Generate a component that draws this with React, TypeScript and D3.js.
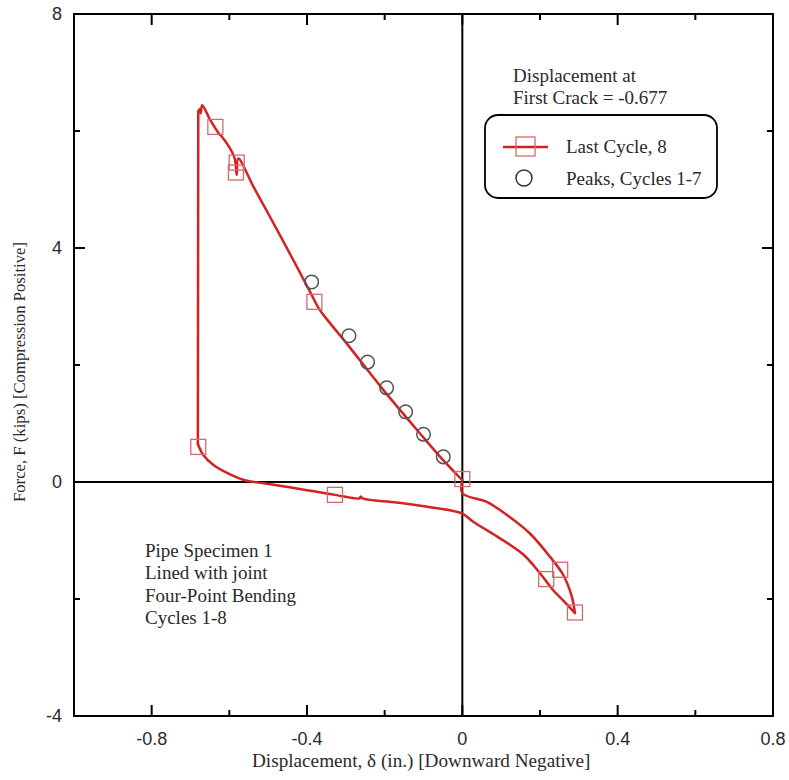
import React from "react";
import * as d3 from "d3";

type P = [number, number];

// Last cycle (cycle 8) force-displacement path
const loadBranch: P[] = [
  [0, 0.03], [-0.057, 0.43], [-0.109, 0.83], [-0.203, 1.57], [-0.298, 2.37],
  [-0.345, 2.75], [-0.368, 2.95], [-0.392, 3.25], [-0.435, 3.79], [-0.495, 4.53], [-0.538, 5.05],
  [-0.577, 5.53], [-0.581, 5.25], [-0.587, 5.55], [-0.620, 5.91], [-0.626, 5.95],
  [-0.650, 6.20], [-0.670, 6.44], [-0.674, 6.30], [-0.677, 6.37], [-0.680, 6.33],
];
const dropBranch: P[] = [
  [-0.680, 6.33], [-0.681, 0.65],
];
const unloadBranch: P[] = [
  [-0.681, 0.65], [-0.667, 0.46], [-0.641, 0.29], [-0.598, 0.13], [-0.555, 0.02],
  [-0.512, -0.02], [-0.426, -0.11], [-0.328, -0.22], [-0.265, -0.28], [-0.262, -0.25],
  [-0.255, -0.285], [-0.169, -0.35], [-0.083, -0.43], [0, -0.54], [0.028, -0.68],
  [0.089, -0.93], [0.157, -1.24], [0.200, -1.56], [0.234, -1.85], [0.262, -2.04],
  [0.290, -2.24],
];
const returnBranch: P[] = [
  [0.290, -2.24], [0.282, -1.96], [0.260, -1.59], [0.226, -1.28], [0.174, -0.88], [0.114, -0.56],
  [0.063, -0.34], [0, -0.19], [0, 0.03],
];

// Square markers on the last cycle
const lastCycleMarkers: P[] = [
  [-0.636, 6.07], [-0.581, 5.46], [-0.583, 5.29], [-0.381, 3.08], [-0.680, 0.60],
  [-0.328, -0.22], [0, 0.05], [0.216, -1.66], [0.252, -1.50], [0.290, -2.23],
];

// Peaks, cycles 1-7
const peaks: P[] = [
  [-0.388, 3.42], [-0.292, 2.50], [-0.244, 2.05], [-0.195, 1.61],
  [-0.146, 1.20], [-0.100, 0.815], [-0.049, 0.43],
];

const xMajorTicks = [-0.8, -0.4, 0, 0.4, 0.8];
const xMinorTicks = [-0.6, -0.2, 0.2, 0.6];
const xTickLabels = ["-0.8", "-0.4", "0", "0.4", "0.8"];
const yMajorTicks = [-4, 0, 4, 8];
const yMinorTicks = [-2, 2, 6];
const yTickLabels = ["-4", "0", "4", "8"];

const infoLines = ["Pipe Specimen 1", "Lined with joint", "Four-Point Bending", "Cycles 1-8"];
const crackLines = ["Displacement at", "First Crack = -0.677"];
const legendLabels = ["Last Cycle, 8", "Peaks, Cycles 1-7"];

const W = 789;
const H = 780;
const L = 74, R = 773, T = 14, B = 716;
const RED = "#d42222";
const MARKER = "#d46a6a";
const TXT = "#2a2a2a";
const SERIF = "'Liberation Serif', 'Times New Roman', serif";
const SANS = "'Liberation Sans', Arial, sans-serif";

export default function App() {
  const x = d3.scaleLinear().domain([-1, 0.8]).range([L, R]);
  const y = d3.scaleLinear().domain([-4, 8]).range([B, T]);
  const smooth = d3.line<P>().x((d) => x(d[0])).y((d) => y(d[1])).curve(d3.curveCatmullRom.alpha(0.5));
  const straight = d3.line<P>().x((d) => x(d[0])).y((d) => y(d[1]));
  const branches = [
    smooth(loadBranch), straight(dropBranch), smooth(unloadBranch), smooth(returnBranch),
  ];

  const MAJ = 11, MIN = 6;
  const sq = 15;

  return (
    <svg width={W} height={H} style={{ position: "absolute", left: 0, top: 0, background: "#fff" }}>
      <rect x={0} y={0} width={W} height={H} fill="#fff" />
      {/* center lines */}
      <line x1={x(0)} x2={x(0)} y1={T} y2={B} stroke="#000" strokeWidth={2} />
      <line x1={L} x2={R} y1={y(0)} y2={y(0)} stroke="#000" strokeWidth={2} />

      {/* curve */}
      {branches.map((d, i) => (
        <path key={"b" + i} d={d || ""} fill="none" stroke={RED} strokeWidth={2.5}
          strokeLinejoin="round" strokeLinecap="round" />
      ))}
      {lastCycleMarkers.map((d, i) => (
        <rect key={"s" + i} x={x(d[0]) - sq / 2} y={y(d[1]) - sq / 2} width={sq} height={sq}
          fill="none" stroke={MARKER} strokeWidth={1.3} />
      ))}
      {peaks.map((d, i) => (
        <circle key={"c" + i} cx={x(d[0])} cy={y(d[1])} r={6.8} fill="none" stroke="#555" strokeWidth={1.5} />
      ))}

      {/* frame */}
      <rect x={L} y={T} width={R - L} height={B - T} fill="none" stroke="#000" strokeWidth={2} />
      {xMajorTicks.map((v, i) => (
        <g key={"xm" + i}>
          <line x1={x(v)} x2={x(v)} y1={B} y2={B - MAJ} stroke="#000" strokeWidth={2} />
          <line x1={x(v)} x2={x(v)} y1={T} y2={T + MAJ} stroke="#000" strokeWidth={2} />
          <text x={x(v)} y={745} textAnchor="middle" fontFamily={SANS} fontSize={18} fill={TXT}>
            {xTickLabels[i]}
          </text>
        </g>
      ))}
      {xMinorTicks.map((v, i) => (
        <g key={"xn" + i}>
          <line x1={x(v)} x2={x(v)} y1={B} y2={B - MIN} stroke="#000" strokeWidth={2} />
          <line x1={x(v)} x2={x(v)} y1={T} y2={T + MIN} stroke="#000" strokeWidth={2} />
        </g>
      ))}
      {yMajorTicks.map((v, i) => (
        <g key={"ym" + i}>
          <line x1={L} x2={L + MAJ} y1={y(v)} y2={y(v)} stroke="#000" strokeWidth={2} />
          <line x1={R} x2={R - MAJ} y1={y(v)} y2={y(v)} stroke="#000" strokeWidth={2} />
          <text x={62} y={y(v)} dy="0.36em" textAnchor="end" fontFamily={SANS} fontSize={18} fill={TXT}>
            {yTickLabels[i]}
          </text>
        </g>
      ))}
      {yMinorTicks.map((v, i) => (
        <g key={"yn" + i}>
          <line x1={L} x2={L + MIN} y1={y(v)} y2={y(v)} stroke="#000" strokeWidth={2} />
          <line x1={R} x2={R - MIN} y1={y(v)} y2={y(v)} stroke="#000" strokeWidth={2} />
        </g>
      ))}

      {/* axis titles */}
      <text x={252} y={767} fontFamily={SERIF} fontSize={19.2} fill={TXT}>
        Displacement, δ (in.) [Downward Negative]
      </text>
      <text transform={`translate(25, 372) rotate(-90)`} textAnchor="middle" fontFamily={SERIF} fontSize={16.7} fill={TXT}>
        Force, F (kips) [Compression Positive]
      </text>

      {/* annotations */}
      {crackLines.map((t, i) => (
        <text key={"cr" + i} x={513} y={82 + i * 21.7} fontFamily={SERIF} fontSize={19} fill={TXT}>{t}</text>
      ))}
      {infoLines.map((t, i) => (
        <text key={"in" + i} x={145} y={557 + i * 22.4} fontFamily={SERIF} fontSize={19} fill={TXT}>{t}</text>
      ))}

      {/* legend */}
      <rect x={485} y={115} width={232} height={83} rx={13} ry={13} fill="#fff" stroke="#000" strokeWidth={1.8} />
      <line x1={503} x2={548} y1={147} y2={147} stroke={RED} strokeWidth={2.5} />
      <rect x={516} y={137} width={19} height={19} fill="none" stroke={MARKER} strokeWidth={1.3} />
      <circle cx={524} cy={178} r={8} fill="none" stroke="#333" strokeWidth={1.5} />
      <text x={566} y={153} fontFamily={SERIF} fontSize={19} fill={TXT}>{legendLabels[0]}</text>
      <text x={566} y={185} fontFamily={SERIF} fontSize={19} fill={TXT}>{legendLabels[1]}</text>
    </svg>
  );
}
